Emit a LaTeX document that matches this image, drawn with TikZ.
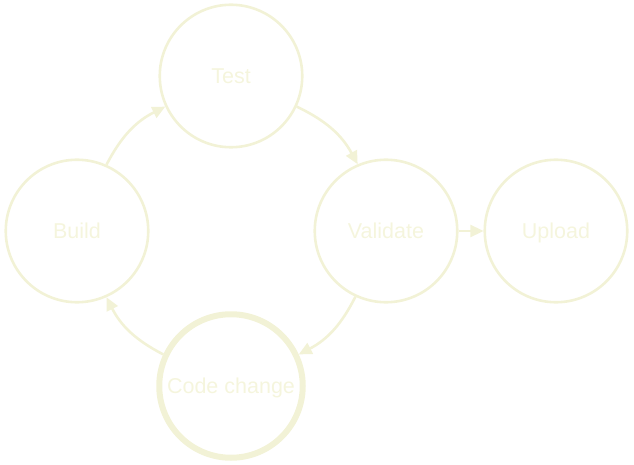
\documentclass[tikz,border=0pt]{standalone}
\usepackage{fontspec}
\setmainfont{Liberation Sans}
\usetikzlibrary{arrows.meta}
\definecolor{ln}{HTML}{F2F2D6}
\definecolor{tx}{HTML}{F5F5DD}
\begin{document}
\begin{tikzpicture}[x=1pt,y=1pt,
  state/.style={circle,draw=ln,line width=2.6pt,minimum size=142.5pt,inner sep=0pt,text=tx,font=\fontsize{21.5}{25}\selectfont,text height=15.5pt,text depth=0pt},
  startstate/.style={state,line width=6pt,minimum size=143.5pt},
  conn/.style={draw=ln,line width=2.6pt,-{Triangle[length=13pt,width=12pt]}}]
\useasboundingbox (0,0) rectangle (634,464);
\node[state] (build) at (77,233) {Build};
\node[state] (test) at (231,388) {Test};
\node[state] (validate) at (386,233) {Validate};
\node[state] (upload) at (556,233) {Upload};
\node[startstate] (code) at (231,78) {Code change};
\draw[conn] (build.66) to[bend left=18] (test.205);
\draw[conn] (test.335) to[bend left=18] (validate.113);
\draw[conn] (validate.245) to[bend left=18] (code.25);
\draw[conn] (code.155) to[bend left=18] (build.294);
\draw[conn] (validate.east) -- (upload.west);
\end{tikzpicture}
\end{document}
